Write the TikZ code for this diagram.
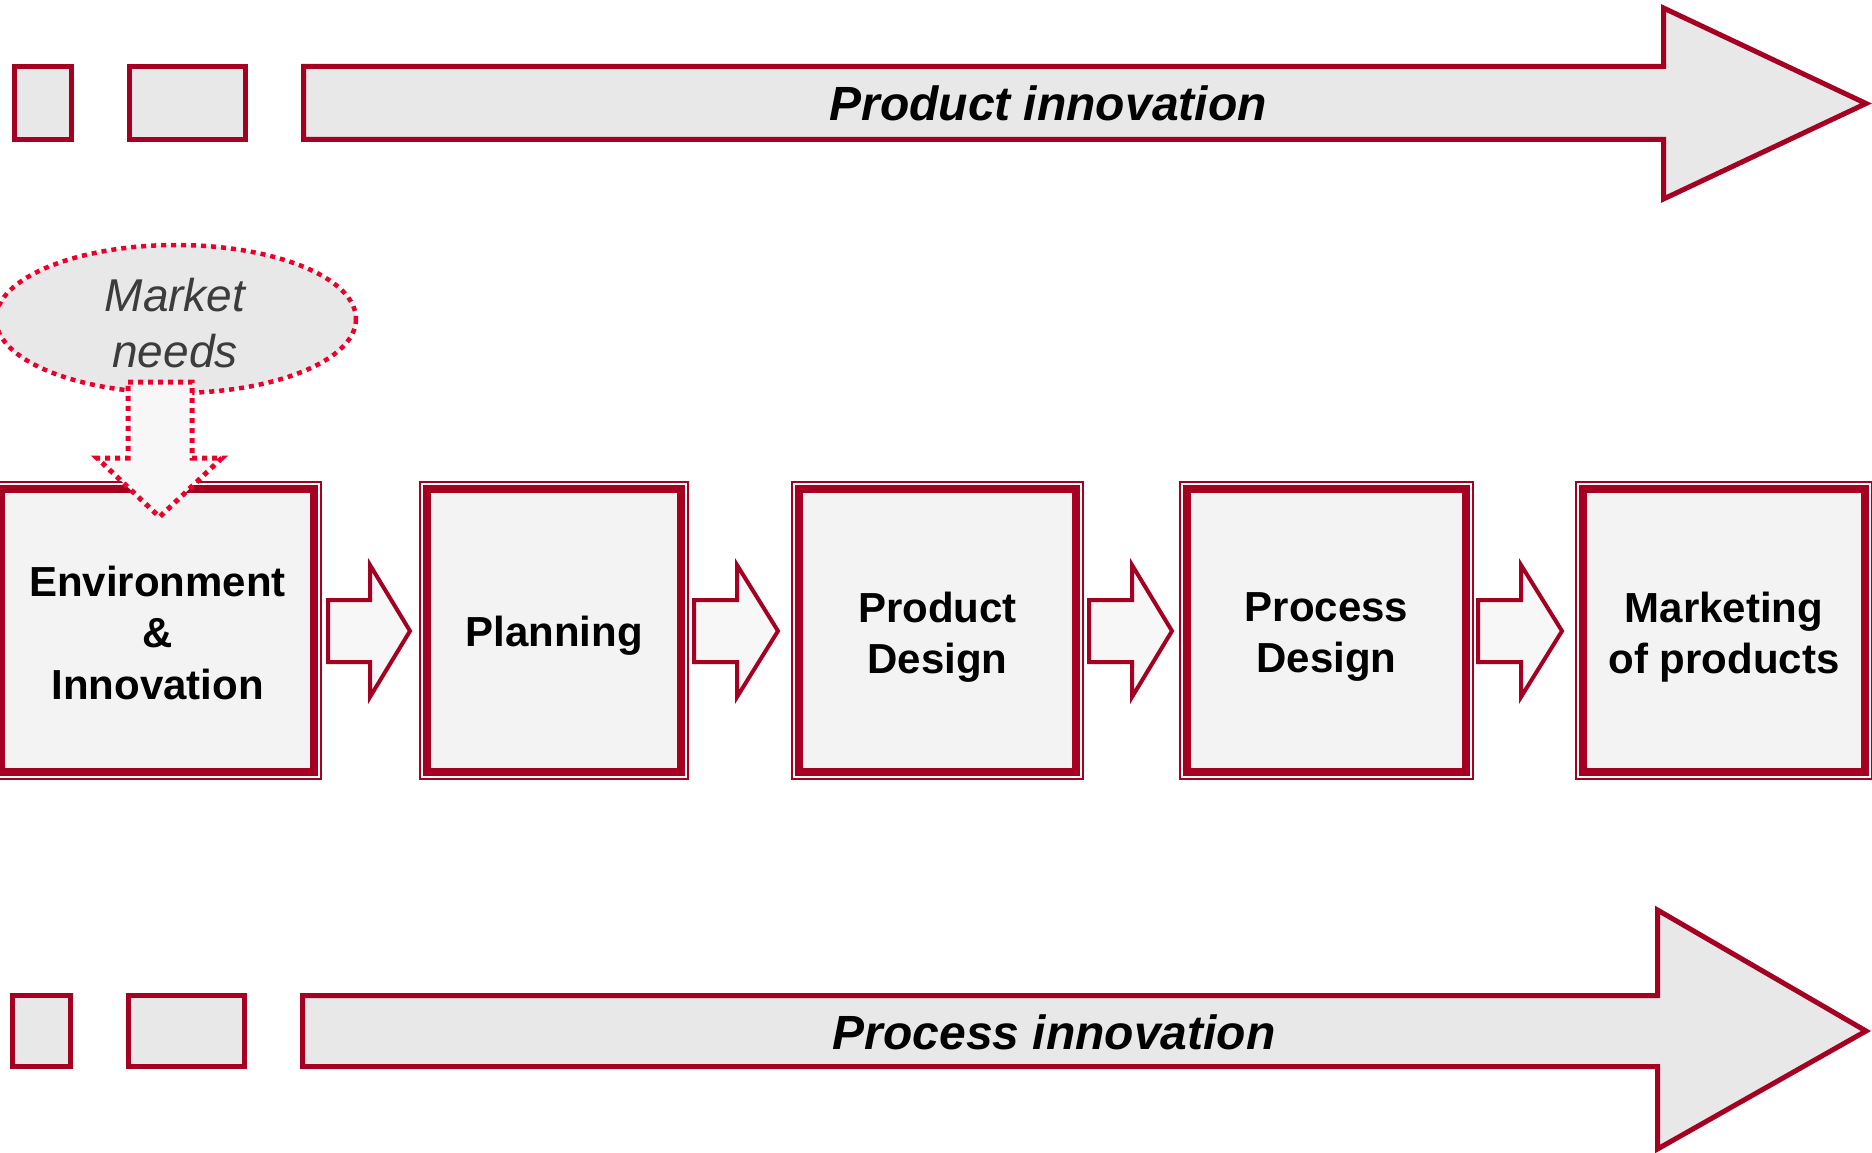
\documentclass[tikz,border=0pt]{standalone}
\usepackage{fontspec}
\setmainfont{Liberation Sans}
\definecolor{brick}{RGB}{165,0,33}
\definecolor{lightfill}{RGB}{232,232,232}
\definecolor{boxfill}{RGB}{243,243,243}
\definecolor{arrowfill}{RGB}{247,247,247}
\definecolor{dotred}{RGB}{234,0,44}
\definecolor{mktext}{RGB}{60,60,60}
\begin{document}
\begin{tikzpicture}[x=1pt,y=-1pt,
  blockarrow/.style={draw=brick, line width=5pt, fill=lightfill, line join=miter, miter limit=12},
  stubbox/.style={draw=brick, line width=5pt, fill=lightfill},
  smallarrow/.style={draw=brick, line width=4pt, fill=arrowfill, line join=miter, miter limit=12},
  stepbox/.style={draw=brick, line width=8pt, fill=boxfill, rectangle, outer sep=0pt, inner sep=0pt, minimum height=283pt},
  thinframe/.style={draw=brick, line width=2pt},
  boxtext/.style={font=\fontsize{42}{51.5}\selectfont\bfseries, align=center, text=black, inner sep=0pt},
  flowtext/.style={font=\fontsize{48}{58}\selectfont\bfseries\itshape, text=black, inner sep=0pt, anchor=base},
  dotline/.style={draw=dotred, dash pattern=on 5pt off 5pt},
]
\useasboundingbox (0,0) rectangle (1872,1153);

% product innovation band
\draw[stubbox] (14.5,66.5) rectangle (71.5,139.5);
\draw[stubbox] (129.5,66.5) rectangle (245.5,139.5);
\draw[blockarrow] (303.5,66.5) -- (1663.5,66.5) -- (1663.5,8) -- (1866,103.5)
  -- (1663.5,199) -- (1663.5,139.5) -- (303.5,139.5) -- cycle;
\node[flowtext] (prodinno) at (1048,121) {Product innovation};

% process innovation band
\draw[stubbox] (12.5,995.5) rectangle (70.5,1066.5);
\draw[stubbox] (128.5,995.5) rectangle (244.5,1066.5);
\draw[blockarrow] (302.5,995.5) -- (1657.5,995.5) -- (1657.5,910) -- (1866,1031)
  -- (1657.5,1149) -- (1657.5,1066.5) -- (302.5,1066.5) -- cycle;
\node[flowtext] (procinno) at (1054,1049) {Process innovation};

% market needs bubble
\path[dotline, fill=lightfill, line width=4.5pt] (176,319) ellipse [x radius=180, y radius=74];
\node[font=\fontsize{46}{56}\selectfont\itshape, text=mktext, align=center, inner sep=0pt]
  (market) at (175,323) {Market\\needs};

% process chain boxes
\node[stepbox, minimum width=313pt] (b1) at (157.5,630.5) {};
\node[stepbox, minimum width=254pt] (b2) at (554,630.5) {};
\node[stepbox, minimum width=277pt] (b3) at (937.5,630.5) {};
\node[stepbox, minimum width=279pt] (b4) at (1326.5,630.5) {};
\node[stepbox, minimum width=282pt] (b5) at (1724,630.5) {};
\foreach \b in {b1,b2,b3,b4,b5}{
  \draw[thinframe] ([shift={(-7,-7)}]\b.north west) rectangle ([shift={(7,7)}]\b.south east);
}

\node[boxtext, yshift=-2pt] (t1) at (b1) {Environment\\\&\\Innovation};
\node[boxtext, yshift=-5.5pt] (t2) at (b2) {Planning};
\node[boxtext, yshift=-6.5pt] (t3) at (b3) {Product\\Design};
\node[boxtext, yshift=-6.5pt] (t4) at (b4) {Process\\Design};
\node[boxtext, yshift=-6.5pt] (t5) at (b5) {Marketing\\of products};

% block arrows between the steps
\foreach \xa/\xb/\xc in {328/370/410, 694/737/778, 1089/1132/1172, 1478/1521/1562}{
  \draw[smallarrow] (\xa,600) -- (\xb,600) -- (\xb,565) -- (\xc,631)
    -- (\xb,697) -- (\xb,662) -- (\xa,662) -- cycle;
}

% dotted arrow from the market needs into the first step
\path[dotline, fill=arrowfill, line width=5pt] (128,382) -- (192,382) -- (192,458) -- (222,458)
  -- (159.5,517) -- (97,458) -- (128,458) -- cycle;
\end{tikzpicture}
\end{document}
